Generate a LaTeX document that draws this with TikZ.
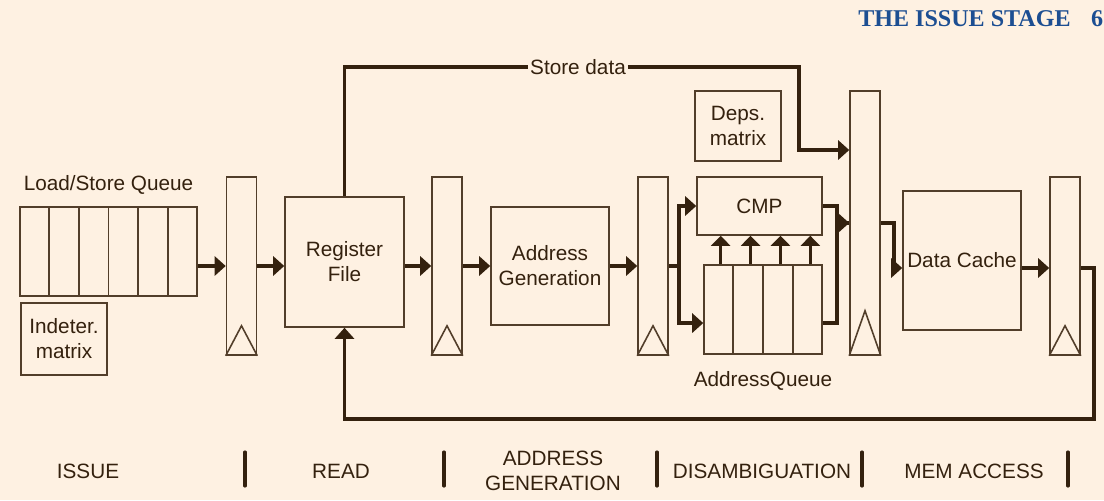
\documentclass[tikz,border=0pt]{standalone}
\usepackage{fontspec}
\setmainfont{Liberation Sans}
\newfontfamily\headfont{Liberation Serif}
\usetikzlibrary{arrows.meta,positioning,calc}
\definecolor{pagecream}{RGB}{254,241,226}
\definecolor{inkbrown}{RGB}{52,33,14}
\definecolor{edgebrown}{RGB}{82,62,42}
\definecolor{headblue}{RGB}{28,78,146}

\begin{document}
\begin{tikzpicture}[x=0.02cm,y=-0.02cm,
  font=\fontsize{11.8}{14.2}\selectfont,
  every node/.style={text=inkbrown},
  blk/.style={draw=edgebrown,line width=0.9pt,inner sep=0pt,align=center},
  latch/.style={blk,minimum width=0.6cm,minimum height=3.56cm},
  wire/.style={draw=inkbrown,line width=2pt},
  feed/.style={wire,-{Triangle[length=0.22cm,width=0.38cm]}},
  probe/.style={draw=inkbrown,line width=1.7pt,-{Triangle[length=0.2cm,width=0.38cm]}},
  stagebar/.style={draw=inkbrown,line width=1.8pt,line cap=round}]
\useasboundingbox (0,0) rectangle (1104,500);
\fill[pagecream] (0,0) rectangle (1104,500);

% running head
\node[anchor=base west,inner sep=0pt,text=headblue,
      font=\headfont\bfseries\fontsize{13.7}{16}\selectfont] (runhead)
  at (858,27) {THE ISSUE STAGE\hspace{0.85em}6};

% issue
\node[blk,minimum width=3.54cm,minimum height=1.78cm] (lsq) at (108.5,251.5) {};
\foreach \i in {1,...,5}
  \draw[edgebrown,line width=0.9pt]
    ($(lsq.north west)!\i/6!(lsq.north east)$) -- ($(lsq.south west)!\i/6!(lsq.south east)$);
\node[above=0.12cm of lsq] (lsqlbl) {Load/Store Queue};
\node[blk,minimum width=1.72cm,minimum height=1.44cm] (indet) at (64,339) {Indeter.\\matrix};

% pipeline latches
\node[latch] (l1) at (241.5,266) {};
\node[latch] (l2) at (447,266) {};
\node[latch] (l3) at (653,266) {};
\node[latch,minimum height=5.28cm] (l4) at (865,223) {};
\node[latch] (l5) at (1065,266) {};
\foreach \l/\h in {l1/0.6,l2/0.6,l3/0.6,l4/0.9,l5/0.6}
  \draw[edgebrown,line width=0.9pt]
    (\l.south west) -- ([yshift=\h cm]\l.south) -- (\l.south east);

% units
\node[blk,minimum width=2.38cm,minimum height=2.6cm] (rf) at (344.5,262) {Register\\File};
\node[blk,minimum width=2.36cm,minimum height=2.36cm] (ag) at (550,266) {Address\\Generation};
\node[blk,minimum width=2.5cm,minimum height=1.16cm] (cmp) at (759.5,206) {CMP};
\node[blk,minimum width=1.72cm,minimum height=1.4cm] (deps) at (738,126) {Deps.\\matrix};
\node[blk,minimum width=2.36cm,minimum height=1.78cm] (aq) at (763,309.5) {};
\foreach \i in {1,...,3}
  \draw[edgebrown,line width=0.9pt]
    ($(aq.north west)!\i/4!(aq.north east)$) -- ($(aq.south west)!\i/4!(aq.south east)$);
\node[below=0.2cm of aq] (aqlbl) {AddressQueue};
\node[blk,minimum width=2.36cm,minimum height=2.78cm] (dc) at (962,260.5) {Data Cache};

% datapath
\draw[feed] (lsq.east |- l1.west) -- (l1.west);
\draw[feed] (l1.east) -- (l1.east -| rf.west);
\draw[feed] (rf.east |- l2.west) -- (l2.west);
\draw[feed] (l2.east) -- (ag.west);
\draw[feed] (ag.east) -- (l3.west);
\draw[wire] (l3.east) -- ++(10,0) coordinate (fork);
\draw[feed] (fork) |- (cmp.west);
\draw[feed] (fork) |- ($(aq.south west)!0.35!(aq.north west)$);
\foreach \i in {1,...,4}{
  \coordinate (tap) at ($(aq.north west)!{(\i-0.5)/4}!(aq.north east)$);
  \draw[probe] ([xshift=0.05cm]tap) -- ([xshift=0.05cm]tap |- cmp.south);
}
\draw[feed] (cmp.east) -- ++(14,0) |- (l4.west);
\draw[wire] ($(aq.south east)!0.35!(aq.north east)$) -- ++(14,0) |- (l4.west);
\draw[feed] (l4.east) -- ++(13,0) |- ([yshift=-0.15cm]dc.west);
\draw[feed] ([yshift=-0.15cm]dc.east) -- ([yshift=-0.15cm]dc.east -| l5.west);
\draw[feed] ([yshift=-0.04cm]l5.east) -- ++(13,0) -- ++(0,151) -| (rf.south);

% store data bypass
\node[fill=pagecream,inner sep=1pt] (sdlbl) at (578,67) {Store data};
\draw[wire] (rf.north) |- (sdlbl.west);
\draw[feed] (sdlbl.east) -| ([xshift=-1cm,yshift=1.46cm]l4.west) -- ([yshift=1.46cm]l4.west);

% stages
\node (stissue) at (88,471) {ISSUE};
\node (stread) at (341,471) {READ};
\node[align=center] (stagen) at (553,471) {ADDRESS\\GENERATION};
\node (stdisamb) at (762,471) {DISAMBIGUATION};
\node (stmem) at (974,471) {MEM ACCESS};
\foreach \x in {245,444,657,862,1068}
  \draw[stagebar] (\x,452) -- (\x,486);
\end{tikzpicture}
\end{document}
